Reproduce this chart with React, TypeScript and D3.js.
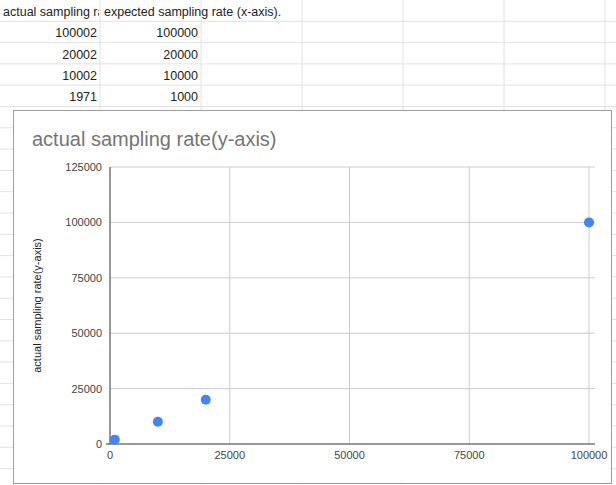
import React from "react";
import * as d3 from "d3";

const headers = ["actual sampling rate(y-axis)", "expected sampling rate (x-axis)."];
const actual = [100002, 20002, 10002, 1971];
const expected = [100000, 20000, 10000, 1000];
const xTicks = [0, 25000, 50000, 75000, 100000];
const yTicks = [0, 25000, 50000, 75000, 100000, 125000];

export default function App() {
  const W = 616, H = 485;
  const x = d3.scaleLinear().domain([0, 100000]).range([110, 589]);
  const y = d3.scaleLinear().domain([0, 125000]).range([444, 167]);
  const rowH = 21.3;
  const rows = d3.range(1, 23).map((i) => i * rowH);
  const cols = [100, 201, 302, 403, 504, 605];
  const font = "Arial, 'Liberation Sans', sans-serif";
  return (
    <div style={{ position: "fixed", left: 0, top: 0 }}>
      <svg width={W} height={H} style={{ display: "block", background: "#fff" }} fontFamily={font}>
        <defs>
          <clipPath id="c0"><rect x={0} y={0} width={99} height={22} /></clipPath>
        </defs>
        {rows.map((r) => <line key={"r" + r} x1={0} x2={W} y1={r} y2={r} stroke="#e2e2e2" />)}
        {cols.map((c) => <line key={"c" + c} x1={c} x2={c} y1={0} y2={H} stroke="#e2e2e2" />)}
        <text x={3} y={16} fontSize={12.5} fill="#222" clipPath="url(#c0)">{headers[0]}</text>
        <text x={104} y={16} fontSize={12.5} fill="#222">{headers[1]}</text>
        {actual.map((v, i) => (
          <g key={i}>
            <text x={97} y={16 + (i + 1) * rowH} fontSize={12.5} textAnchor="end" fill="#222">{v}</text>
            <text x={198} y={16 + (i + 1) * rowH} fontSize={12.5} textAnchor="end" fill="#222">{expected[i]}</text>
          </g>
        ))}
        <rect x={13.5} y={110.5} width={598} height={373} fill="#fff" stroke="#9e9e9e" />
        <text x={32} y={146} fontSize={20} fill="#757575">actual sampling rate(y-axis)</text>
        {yTicks.slice(1).map((t) => (
          <line key={"gy" + t} x1={x(0)} x2={x(100000) + 6} y1={y(t)} y2={y(t)} stroke="#cccccc" />
        ))}
        {xTicks.slice(1).map((t) => (
          <line key={"gx" + t} x1={x(t)} x2={x(t)} y1={y(125000)} y2={y(0)} stroke="#cccccc" />
        ))}
        <line x1={x(0)} x2={x(0)} y1={y(125000)} y2={y(0)} stroke="#333" />
        <line x1={x(0) - 4} x2={x(100000) + 6} y1={y(0)} y2={y(0)} stroke="#333" />
        {yTicks.map((t) => (
          <text key={"ty" + t} x={102} y={y(t) + 4} fontSize={11} textAnchor="end" fill="#444">{t}</text>
        ))}
        {xTicks.map((t) => (
          <text key={"tx" + t} x={x(t)} y={459} fontSize={11} textAnchor="middle" fill="#444">{t}</text>
        ))}
        <text transform={`translate(41,${y(62500)}) rotate(-90)`} fontSize={11} textAnchor="middle" fill="#222">actual sampling rate(y-axis)</text>
        {expected.map((v, i) => (
          <circle key={"p" + i} cx={x(v)} cy={y(actual[i])} r={5} fill="#4285f4" />
        ))}
      </svg>
    </div>
  );
}
